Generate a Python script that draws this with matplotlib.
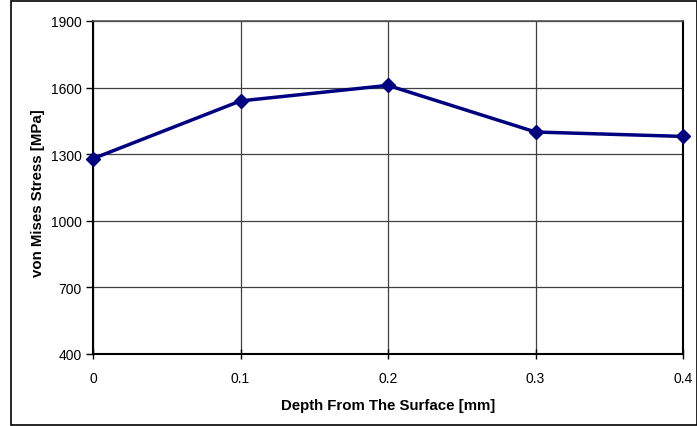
import matplotlib
matplotlib.use("Agg")
import matplotlib.pyplot as plt
from matplotlib.patches import Rectangle

depth = [0.0, 0.1, 0.2, 0.3, 0.4]
stress = [1280, 1540, 1610, 1400, 1380]
x_ticks = [0, 0.1, 0.2, 0.3, 0.4]
x_tick_labels = ["0", "0.1", "0.2", "0.3", "0.4"]
y_ticks = [400, 700, 1000, 1300, 1600, 1900]

plt.rcParams['font.family'] = ['Liberation Sans', 'DejaVu Sans']

fig = plt.figure(figsize=(6.97, 4.27), dpi=100)
W, H = 697, 427
ax = fig.add_axes([93 / W, 1 - 355 / H, (683 - 93) / W, (355 - 22) / H])

# outer chart border
fig.patches.append(Rectangle((11 / W, 1 / H), (697 - 11) / W, (426 - 2) / H,
                             transform=fig.transFigure, fill=False,
                             edgecolor='black', linewidth=1.2))

ax.plot(depth, stress, color='#000080', linewidth=2.5, marker='D',
        markersize=7, markerfacecolor='#000080', markeredgecolor='#000080',
        clip_on=False, zorder=5)

ax.set_xlim(0, 0.4)
ax.set_ylim(400, 1900)
ax.set_xticks(x_ticks)
ax.set_xticklabels(x_tick_labels)
ax.set_yticks(y_ticks)
ax.grid(True, color='#404040', linewidth=0.9)
ax.set_axisbelow(True)

for side in ['left', 'bottom', 'right']:
    ax.spines[side].set_linewidth(1.5)
    ax.spines[side].set_color('black')
ax.spines['top'].set_linewidth(1.2)
ax.spines['top'].set_color('#555555')

ax.tick_params(axis='y', direction='out', length=5, width=1, labelsize=10, pad=3)
ax.tick_params(axis='x', direction='inout', length=7, width=1, labelsize=10, pad=9)

ax.set_xlabel('Depth From The Surface [mm]', fontsize=10.8, fontweight='bold', labelpad=9)
ax.set_ylabel('von Mises Stress [MPa]', fontsize=10.8, fontweight='bold')
ax.yaxis.set_label_coords(-0.081, 0.485)

fig.savefig('out.png', dpi=100)
